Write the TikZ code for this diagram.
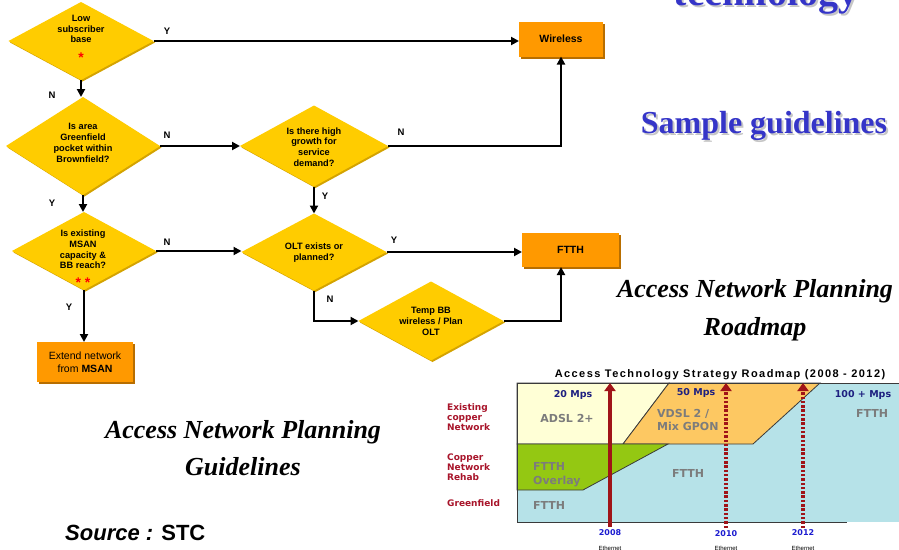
\documentclass[tikz,border=0pt]{standalone}
\usepackage{fontspec}
\setmainfont{Liberation Serif}
\setsansfont{Liberation Sans}
\newfontfamily\dvsans{DejaVu Sans}
\newfontfamily\spacedsans[LetterSpace=13]{Liberation Sans}
\usetikzlibrary{shapes.geometric,arrows.meta,shadows}
\definecolor{dyel}{HTML}{FFCC00}
\definecolor{dyelsh}{HTML}{D4A300}
\definecolor{bor}{HTML}{FF9900}
\definecolor{borsh}{HTML}{B86E00}
\definecolor{ttlblue}{HTML}{3535C8}
\definecolor{cyel}{HTML}{FFFFD6}
\definecolor{cora}{HTML}{FDC862}
\definecolor{cgrn}{HTML}{94C812}
\definecolor{cblu}{HTML}{B6E2E8}
\definecolor{cedge}{HTML}{3A3A3A}
\definecolor{cred}{HTML}{A8142A}
\definecolor{carrow}{HTML}{A01418}
\definecolor{cnavy}{HTML}{1E2080}
\definecolor{cyear}{HTML}{1C1CD0}
\definecolor{cgray}{HTML}{7C7C7C}
\begin{document}
\begin{tikzpicture}[x=1pt,y=-1pt,
  dia/.style={shape=diamond, fill=dyel, inner sep=0pt, outer sep=0pt,
    drop shadow={shadow xshift=1.5pt, shadow yshift=-1.5pt, fill=dyelsh, opacity=1}},
  obox/.style={rectangle, fill=bor, inner sep=0pt, outer sep=0pt,
    drop shadow={shadow xshift=2pt, shadow yshift=-2pt, fill=borsh, opacity=1}},
  dtext/.style={font=\sffamily\bfseries\fontsize{9.2}{10.8}\selectfont, align=center, inner sep=0pt},
  btext/.style={font=\sffamily\bfseries\fontsize{10.5}{12}\selectfont},
  yn/.style={font=\sffamily\bfseries\fontsize{9.5}{10}\selectfont, inner sep=0pt},
  star/.style={font=\sffamily\bfseries\fontsize{14}{14}\selectfont, text=red, anchor=base, inner sep=0pt},
  conn/.style={line width=2.7pt, -{Triangle[length=8pt,width=8pt]}},
  bigttl/.style={font=\bfseries\fontsize{32}{36}\selectfont, anchor=base, inner sep=0pt},
  techttl/.style={font=\bfseries\fontsize{40}{44}\selectfont, anchor=base, inner sep=0pt},
  ittl/.style={font=\bfseries\itshape\fontsize{26}{30}\selectfont, anchor=base, inner sep=0pt},
  ctext/.style={font=\dvsans\bfseries\fontsize{11}{13.5}\selectfont, text=cgray, inner sep=0pt},
  mps/.style={font=\dvsans\bfseries\fontsize{9.5}{10}\selectfont, text=cnavy, inner sep=0pt},
  rowlab/.style={font=\dvsans\bfseries\fontsize{9}{9.8}\selectfont, text=cred, align=left, anchor=west, inner sep=0pt},
  yr/.style={font=\dvsans\bfseries\fontsize{8}{8}\selectfont, text=cyear, inner sep=0pt},
  eth/.style={font=\sffamily\fontsize{6}{6}\selectfont, anchor=north, inner sep=0pt},
  yarrow/.style={carrow, -{Triangle[length=8pt,width=11pt]}},
]
\useasboundingbox (0,0) rectangle (899,549);
\fill[white] (0,0) rectangle (899,549);
\clip (0,0) rectangle (899,549);

% ---------- flowchart ----------
\node[dia, minimum width=145pt, minimum height=78pt] (d1) at (81,41) {};
\node[dtext] (d1t) at (81,29) {Low\\subscriber\\base};
\node[star] (d1s) at (81,62) {*};

\node[dia, minimum width=154pt, minimum height=98pt] (d2) at (83,146) {};
\node[dtext] (d2t) at (83,143) {Is area\\Greenfield\\pocket within\\Brownfield?};

\node[dia, minimum width=148pt, minimum height=81pt] (d3) at (314,146) {};
\node[dtext] (d3t) at (314,147) {Is there high\\growth for\\service\\demand?};

\node[dia, minimum width=144pt, minimum height=78pt] (d4) at (84,251) {};
\node[dtext] (d4t) at (83,249.5) {Is existing\\MSAN\\capacity \&\\BB reach?};
\node[star] (d4s) at (83,287) {* *};

\node[dia, minimum width=145pt, minimum height=77pt] (d5) at (314,252) {};
\node[dtext] (d5t) at (314,252.5) {OLT exists or\\planned?};

\node[dia, minimum width=145pt, minimum height=79pt] (d6) at (431,321) {};
\node[dtext] (d6t) at (431,321.5) {Temp BB\\wireless / Plan\\OLT};

\node[obox, btext, minimum width=84pt, minimum height=35pt] (wl) at (561,39) {Wireless};
\node[obox, btext, minimum width=97pt, minimum height=34pt] (ft) at (570.5,250) {FTTH};
\node[obox, font=\sffamily\fontsize{10.5}{13}\selectfont, align=center, minimum width=96pt, minimum height=40pt] (ext) at (85,362) {Extend network\\from \textbf{MSAN}};

\draw[conn] (d1.east) -- (d1.east -| wl.west);
\draw[conn] (d1.south) -- (d1.south |- d2.north);
\draw[conn] (d2.east) -- (d3.west);
\draw[conn] (d3.east) -| (wl.south);
\draw[conn] (d3.south) -- (d5.north);
\draw[conn] (d2.south) -- (d2.south |- d4.north);
\draw[conn] (d4.east) -- (d4.east -| d5.west);
\draw[conn] (d4.south) -- (d4.south |- ext.north);
\draw[conn] (d5.east) -- (d5.east -| ft.west);
\draw[conn] (d5.south) |- (d6.west);
\draw[conn] (d6.east) -| ([xshift=39pt]ft.south west);

\node[yn] (l1) at (167,31) {Y};
\node[yn] (l2) at (52,95) {N};
\node[yn] (l3) at (167,135) {N};
\node[yn] (l4) at (401,132) {N};
\node[yn] (l5) at (325,196) {Y};
\node[yn] (l6) at (52,203) {Y};
\node[yn] (l7) at (167,242) {N};
\node[yn] (l8) at (394,240) {Y};
\node[yn] (l9) at (69,307) {Y};
\node[yn] (l10) at (330,299) {N};

% ---------- titles ----------
\node[techttl, text=gray!45] (techsh) at (768,7) {technology};
\node[techttl, text=ttlblue] (tech) at (766,5) {technology};
\node[bigttl, text=gray!45] (samsh) at (766,135) {Sample guidelines};
\node[bigttl, text=ttlblue] (sam) at (764,133) {Sample guidelines};

\node[ittl] (anr1) at (755,297) {Access Network Planning};
\node[ittl] (anr2) at (755,335) {Roadmap};
\node[ittl] (ang1) at (243,438) {Access Network Planning};
\node[ittl] (ang2) at (243,475) {Guidelines};
\node[font=\sffamily\bfseries\fontsize{22}{24}\selectfont, anchor=base west, inner sep=0pt] (src) at (65,540) {\itshape Source :\upshape{} STC};

% ---------- roadmap chart ----------
\node[font=\spacedsans\bfseries\fontsize{11}{12}\selectfont, anchor=base, inner sep=0pt] (rtitle) at (720,377) {Access Technology Strategy Roadmap (2008 - 2012)};
\fill[cblu] (517,383) rectangle (899,522);
\filldraw[fill=cyel, draw=cedge, line width=0.8pt] (517,383) -- (669,383) -- (623,444) -- (517,444) -- cycle;
\filldraw[fill=cora, draw=cedge, line width=0.8pt] (669,383) -- (820,383) -- (753,444) -- (623,444) -- cycle;
\filldraw[fill=cgrn, draw=cedge, line width=0.8pt] (517,444) -- (668,444) -- (583,490) -- (517,490) -- cycle;
\draw[cedge, line width=0.9pt] (899,383) -- (517,383) -- (517,522) -- (847,522);

\node[mps] (m20) at (573,395) {20 Mps};
\node[mps] (m50) at (696,393) {50 Mps};
\node[mps] (m100) at (863,395) {100 + Mps};
\node[ctext] (adsl) at (567,418) {ADSL 2+};
\node[ctext, align=left, anchor=west] (vdsl) at (657,420) {VDSL 2 /\\Mix GPON};
\node[ctext] (ftr) at (872,413) {FTTH};
\node[ctext] (ftm) at (688,473) {FTTH};
\node[ctext, align=left, anchor=west] (fto) at (533,474.5) {FTTH\\Overlay};
\node[ctext, anchor=west] (ftg) at (533,505) {FTTH};

\node[rowlab] (r1) at (447,417) {Existing\\copper\\Network};
\node[rowlab] (r2) at (447,467) {Copper\\Network\\Rehab};
\node[rowlab] (r3) at (447,503) {Greenfield};

\draw[yarrow, line width=4pt] (610,527) -- (610,383);
\draw[yarrow, line width=3.5pt, dash pattern=on 2.5pt off 1.8pt] (726,528) -- (726,383);
\draw[yarrow, line width=3.5pt, dash pattern=on 2.5pt off 1.8pt] (803,528) -- (803,383);

\node[yr] (y8) at (610,533) {2008};
\node[yr] (y10) at (726,534) {2010};
\node[yr] (y12) at (803,533) {2012};
\node[eth] (e8) at (610,545.5) {Ethernet};
\node[eth] (e10) at (726,545.5) {Ethernet};
\node[eth] (e12) at (803,545.5) {Ethernet};
\end{tikzpicture}
\end{document}
